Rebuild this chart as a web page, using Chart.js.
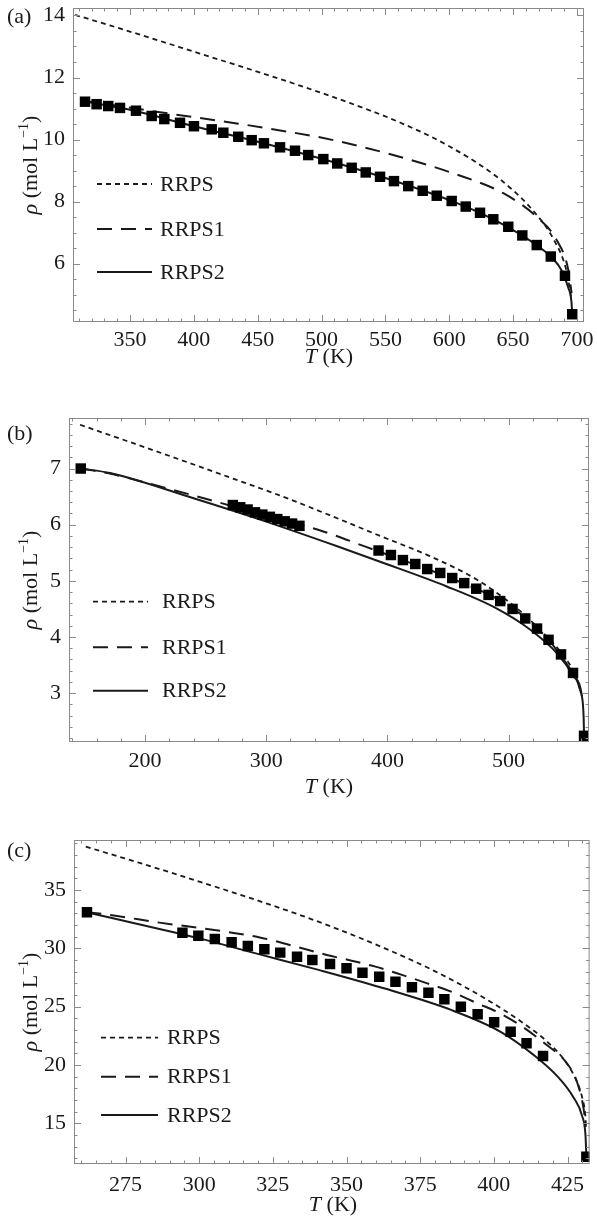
<!DOCTYPE html>
<html lang="en">
<head>
<meta charset="UTF-8">
<title>Saturated liquid density: RRPS, RRPS1, RRPS2</title>
<script src="https://cdn.jsdelivr.net/npm/chart.js"></script>
<style>
    body { margin: 0; background: #fff; }
    canvas { position: absolute; left: 0; }
</style>
</head>
<body>
<canvas id="chartA" width="597" height="400" style="top:0px"></canvas>
<canvas id="chartB" width="597" height="410" style="top:400px"></canvas>
<canvas id="chartC" width="597" height="414" style="top:810px"></canvas>

<script>
    // ---- panel (a) ----
    const aExpT = [314.8, 323.9, 333.0, 342.2, 354.7, 367.0, 376.9, 389.2, 400.1, 414.0, 423.1, 434.8, 445.3, 454.9, 467.5, 479.2, 489.6, 501.4, 512.3, 523.6, 534.6, 545.8, 556.7, 567.9, 579.2, 590.2, 601.9, 612.9, 624.1, 634.5, 646.2, 657.2, 668.5, 679.5, 690.6, 696.3];
    const aExpRho = [11.22, 11.14, 11.08, 11.02, 10.93, 10.76, 10.66, 10.54, 10.43, 10.33, 10.22, 10.09, 9.98, 9.88, 9.75, 9.64, 9.50, 9.37, 9.23, 9.09, 8.94, 8.80, 8.66, 8.50, 8.35, 8.19, 8.02, 7.84, 7.64, 7.43, 7.19, 6.91, 6.60, 6.23, 5.61, 4.37];
    const aRrpsT = [307, 335, 365.7, 404.8, 445, 483, 522, 561.4, 600.6, 639.7, 665.8, 681.5, 691.9, 695.5];
    const aRrpsRho = [14.02, 13.67, 13.28, 12.77, 12.25, 11.74, 11.18, 10.55, 9.77, 8.72, 7.70, 6.80, 5.75, 4.9];
    const aRrps1T = [312, 340, 373.5, 433.5, 472.7, 501.4, 551, 603.2, 642.3, 668.5, 684.1, 693.2, 695.8];
    const aRrps1Rho = [11.26, 11.09, 10.88, 10.52, 10.26, 10.05, 9.56, 8.91, 8.27, 7.51, 6.76, 5.80, 5.05];
    const aRrps2T = [312, 350, 400, 450, 500, 550, 600, 625, 650, 670, 681, 688, 693, 695.6, 696.3];
    const aRrps2Rho = [11.25, 10.96, 10.43, 9.93, 9.38, 8.76, 8.05, 7.62, 7.08, 6.55, 6.17, 5.78, 5.25, 4.8, 4.37];
    const aXTicks = [350, 400, 450, 500, 550, 600, 650, 700];
    const aYTicks = [6, 8, 10, 12, 14];

    // ---- panel (b) ----
    const bExpT = [146.9, 272.4, 278.5, 284.6, 290.7, 296.8, 303.0, 309.1, 315.2, 321.3, 327.4, 392.7, 402.9, 412.8, 423.0, 432.9, 443.6, 453.5, 463.4, 473.3, 483.5, 493.1, 503.3, 513.8, 523.5, 533.0, 543.3, 553.2, 562.3];
    const bExpRho = [7.00, 6.35, 6.31, 6.27, 6.22, 6.18, 6.14, 6.10, 6.06, 6.02, 5.98, 5.54, 5.46, 5.37, 5.30, 5.21, 5.14, 5.05, 4.96, 4.86, 4.75, 4.64, 4.50, 4.33, 4.15, 3.95, 3.69, 3.36, 2.24];
    const bRrpsT = [146.3, 185, 230, 267.5, 310, 350, 394, 435, 474, 504, 526, 548, 556, 560.6];
    const bRrpsRho = [7.78, 7.49, 7.15, 6.86, 6.53, 6.19, 5.80, 5.44, 5.02, 4.56, 4.13, 3.59, 3.28, 2.94];
    const bRrps1T = [146.9, 171, 212.4, 253.7, 290, 347, 383, 420, 460, 500, 530, 548, 556, 560.6];
    const bRrps1Rho = [7.00, 6.91, 6.68, 6.44, 6.22, 5.88, 5.60, 5.31, 4.98, 4.56, 4.02, 3.52, 3.25, 2.95];
    const bRrps2T = [146.9, 171, 240, 295, 358, 394, 449, 490, 518, 540, 553.7, 560.6, 562, 562.3];
    const bRrps2Rho = [7.00, 6.92, 6.47, 6.09, 5.62, 5.34, 4.90, 4.51, 4.13, 3.71, 3.30, 2.94, 2.55, 2.24];
    const bXTicks = [200, 300, 400, 500];
    const bYTicks = [3, 4, 5, 6, 7];

    // ---- panel (c) ----
    const cExpT = [261.9, 294.3, 299.7, 305.3, 311.0, 316.5, 322.1, 327.5, 333.2, 338.4, 344.4, 350.0, 355.4, 361.1, 366.6, 372.2, 377.8, 383.2, 388.8, 394.5, 400.1, 405.7, 411.1, 416.7, 431.4];
    const cExpRho = [33.09, 31.34, 31.08, 30.80, 30.52, 30.20, 29.92, 29.63, 29.28, 29.00, 28.66, 28.29, 27.91, 27.57, 27.14, 26.66, 26.20, 25.63, 25.00, 24.35, 23.66, 22.86, 21.86, 20.78, 12.15];
    const cRrpsT = [261.5, 280, 300, 318, 333.7, 347, 363, 379.9, 396.7, 410.2, 418.1, 423.7, 427.6, 429.9, 431, 431.3];
    const cRrpsRho = [38.71, 37.3, 35.72, 34.25, 32.9, 31.65, 30.0, 28.05, 25.75, 23.55, 22.0, 20.5, 18.9, 17.3, 15.8, 14.7];
    const cRrps1T = [261.7, 269.6, 286.5, 303.3, 320.2, 337.1, 343.3, 351.7, 359.8, 368.8, 377.4, 385.5, 393.9, 402.1, 410.0, 417.2, 424.8, 428.2, 430.5, 431.2];
    const cRrps1Rho = [33.1, 32.86, 32.2, 31.63, 30.95, 29.85, 29.43, 28.94, 28.43, 27.72, 27.0, 26.29, 25.34, 24.43, 23.23, 21.86, 20.15, 18.57, 16.2, 14.7];
    const cRrps2T = [261.7, 269.6, 286.5, 300, 320.2, 340.5, 363, 385.5, 402.3, 413.6, 421.5, 427.1, 430, 431.1, 431.4];
    const cRrps2Rho = [33.1, 32.64, 31.66, 30.85, 29.5, 28.15, 26.55, 24.72, 22.85, 20.85, 19.05, 17.2, 15.6, 14.0, 12.15];
    const cXTicks = [275, 300, 325, 350, 375, 400, 425];
    const cYTicks = [15, 20, 25, 30, 35];

    const legendNames = ['RRPS', 'RRPS1', 'RRPS2'];

    const SERIF = '"Liberation Serif", "Times New Roman", serif';
    const INK = '#1a1a1a';
    const SHORT_DASH = [5, 4];
    const LONG_DASH = [15, 9];

    function toPoints(xs, ys) {
        return xs.map((x, i) => ({ x: x, y: ys[i] }));
    }

    function curve(label, xs, ys, dash, width) {
        return {
            label: label,
            data: toPoints(xs, ys),
            showLine: true,
            borderColor: INK,
            borderWidth: width,
            borderDash: dash,
            pointRadius: 0,
            fill: false,
            cubicInterpolationMode: 'monotone'
        };
    }

    function squares(xs, ys) {
        return {
            label: 'experiment',
            data: toPoints(xs, ys),
            showLine: false,
            pointStyle: 'rect',
            pointRadius: 7.4,
            backgroundColor: '#000',
            borderColor: '#000',
            borderWidth: 0
        };
    }

    // Frame, inward ticks, legend, panel letter and axis titles (Mathematica look).
    const framePlugin = {
        id: 'frame',
        afterDatasetsDraw(chart, args, o) {
            const ctx = chart.ctx;
            const area = chart.chartArea;
            const xs = chart.scales.x;
            const ys = chart.scales.y;
            ctx.save();

            // frame
            ctx.strokeStyle = '#8a8a8a';
            ctx.lineWidth = 1;
            ctx.setLineDash([]);
            ctx.strokeRect(area.left + 0.5, area.top + 0.5, area.right - area.left - 1, area.bottom - area.top - 1);

            // ticks on all four sides, pointing inward
            function tickMarks(scale, step, len) {
                const first = Math.ceil(scale.min / step - 1e-9);
                const last = Math.floor(scale.max / step + 1e-9);
                for (let k = first; k <= last; k++) {
                    const v = +(k * step).toFixed(6);
                    const p = Math.round(scale.getPixelForValue(v)) + 0.5;
                    ctx.beginPath();
                    if (scale.isHorizontal()) {
                        ctx.moveTo(p, area.bottom); ctx.lineTo(p, area.bottom - len);
                        ctx.moveTo(p, area.top); ctx.lineTo(p, area.top + len);
                    } else {
                        ctx.moveTo(area.left, p); ctx.lineTo(area.left + len, p);
                        ctx.moveTo(area.right, p); ctx.lineTo(area.right - len, p);
                    }
                    ctx.stroke();
                }
            }
            tickMarks(xs, o.xMinor, 3.5);
            tickMarks(xs, o.xMajor, 7);
            tickMarks(ys, o.yMinor, 3.5);
            tickMarks(ys, o.yMajor, 7);

            // legend
            ctx.font = '22px ' + SERIF;
            ctx.fillStyle = INK;
            ctx.textBaseline = 'middle';
            ctx.textAlign = 'left';
            const styles = [[SHORT_DASH, 1.8], [LONG_DASH, 2], [[], 2]];
            o.legendY.forEach((y, i) => {
                ctx.strokeStyle = INK;
                ctx.lineWidth = styles[i][1];
                ctx.setLineDash(styles[i][0]);
                ctx.beginPath();
                ctx.moveTo(o.legendX[0], y);
                ctx.lineTo(o.legendX[1], y);
                ctx.stroke();
                ctx.fillText(legendNames[i], o.legendX[2], y + 1);
            });
            ctx.setLineDash([]);

            // panel letter
            ctx.fillText(o.letter, 7, o.letterY);

            // x title: italic T + " (K)"
            const xt1 = 'T', xt2 = ' (K)';
            ctx.font = 'italic 22px ' + SERIF;
            const w1 = ctx.measureText(xt1).width;
            ctx.font = '22px ' + SERIF;
            const w2 = ctx.measureText(xt2).width;
            let x0 = o.xTitleX - (w1 + w2) / 2;
            ctx.font = 'italic 22px ' + SERIF;
            ctx.fillText(xt1, x0, o.xTitleY);
            ctx.font = '22px ' + SERIF;
            ctx.fillText(xt2, x0 + w1, o.xTitleY);

            // y title: italic rho + " (mol L" + superscript "-1" + ")"
            ctx.translate(31, (area.top + area.bottom) / 2);
            ctx.rotate(-Math.PI / 2);
            const parts = [
                ['italic 22px ' + SERIF, '\u03c1', 0],
                ['22px ' + SERIF, ' (mol L', 0],
                ['14px ' + SERIF, '\u22121', -7],
                ['22px ' + SERIF, ')', 0]
            ];
            let total = 0;
            parts.forEach(p => { ctx.font = p[0]; total += ctx.measureText(p[1]).width; });
            let px = -total / 2;
            parts.forEach(p => {
                ctx.font = p[0];
                ctx.fillText(p[1], px, p[2]);
                px += ctx.measureText(p[1]).width;
            });
            ctx.restore();
        }
    };

    function makePanel(id, p) {
        const canvas = document.getElementById(id);
        const H = canvas.height;
        return new Chart(canvas, {
            type: 'scatter',
            data: {
                datasets: [
                    squares(p.expT, p.expRho),
                    curve('RRPS2', p.r2T, p.r2Rho, [], 2),
                    curve('RRPS1', p.r1T, p.r1Rho, LONG_DASH, 2),
                    curve('RRPS', p.r0T, p.r0Rho, SHORT_DASH, 1.8)
                ]
            },
            options: {
                responsive: false,
                animation: false,
                events: [],
                layout: { padding: { left: 0, top: p.area[1], right: 597 - p.area[2], bottom: 0 } },
                plugins: {
                    legend: { display: false },
                    tooltip: { enabled: false },
                    frame: p.frame
                },
                scales: {
                    x: {
                        type: 'linear',
                        min: p.xRange[0],
                        max: p.xRange[1],
                        grid: { display: false, drawTicks: false },
                        border: { display: false },
                        afterBuildTicks: s => { s.ticks = p.xTicks.map(v => ({ value: v })); },
                        afterFit: s => { s.height = H - p.area[3]; s.paddingLeft = 0; s.paddingRight = 0; },
                        ticks: {
                            color: INK,
                            padding: p.xPad,
                            maxRotation: 0,
                            autoSkip: false,
                            font: { family: SERIF, size: 22, lineHeight: 1.2 }
                        }
                    },
                    y: {
                        type: 'linear',
                        min: p.yRange[0],
                        max: p.yRange[1],
                        grid: { display: false, drawTicks: false },
                        border: { display: false },
                        afterBuildTicks: s => { s.ticks = p.yTicks.map(v => ({ value: v })); },
                        afterFit: s => { s.width = p.area[0]; s.paddingTop = 0; s.paddingBottom = 0; },
                        ticks: {
                            color: INK,
                            padding: 8,
                            font: { family: SERIF, size: 22 }
                        }
                    }
                }
            },
            plugins: [framePlugin]
        });
    }

    makePanel('chartA', {
        expT: aExpT, expRho: aExpRho,
        r0T: aRrpsT, r0Rho: aRrpsRho,
        r1T: aRrps1T, r1Rho: aRrps1Rho,
        r2T: aRrps2T, r2Rho: aRrps2Rho,
        xTicks: aXTicks, yTicks: aYTicks,
        xRange: [305.4, 705.5], yRange: [4.12, 14.24],
        area: [73, 8, 584, 322], xPad: 5,
        frame: {
            xMajor: 50, xMinor: 10, yMajor: 2, yMinor: 0.5,
            legendX: [97, 152, 160], legendY: [184, 229, 272],
            letter: '(a)', letterY: 17, xTitleX: 329, xTitleY: 357
        }
    });

    makePanel('chartB', {
        expT: bExpT, expRho: bExpRho,
        r0T: bRrpsT, r0Rho: bRrpsRho,
        r1T: bRrps1T, r1Rho: bRrps1Rho,
        r2T: bRrps2T, r2Rho: bRrps2Rho,
        xTicks: bXTicks, yTicks: bYTicks,
        xRange: [137.2, 566.4], yRange: [2.13, 7.90],
        area: [69, 18, 589, 342], xPad: 6,
        frame: {
            xMajor: 100, xMinor: 20, yMajor: 1, yMinor: 0.2,
            legendX: [93, 148, 162], legendY: [201.7, 247.3, 290.7],
            letter: '(b)', letterY: 34, xTitleX: 329, xTitleY: 387
        }
    });

    makePanel('chartC', {
        expT: cExpT, expRho: cExpRho,
        r0T: cRrpsT, r0Rho: cRrpsRho,
        r1T: cRrps1T, r1Rho: cRrps1Rho,
        r2T: cRrps2T, r2Rho: cRrps2Rho,
        xTicks: cXTicks, yTicks: cYTicks,
        xRange: [257.5, 432.5], yRange: [11.52, 39.28],
        area: [74, 30, 592, 354], xPad: 8,
        frame: {
            xMajor: 25, xMinor: 5, yMajor: 5, yMinor: 1,
            legendX: [101, 158, 167], legendY: [227.7, 266.7, 305],
            letter: '(c)', letterY: 41, xTitleX: 333, xTitleY: 395
        }
    });
</script>
</body>
</html>
